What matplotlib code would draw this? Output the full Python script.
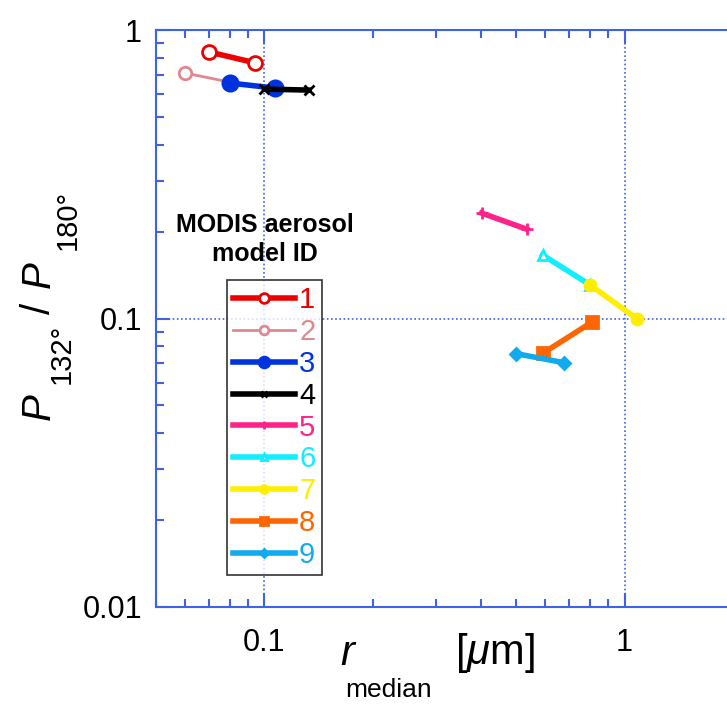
import numpy as np
import matplotlib.pyplot as plt
from matplotlib.ticker import LogLocator, NullFormatter, FixedLocator

plt.rcParams['font.family'] = ['Liberation Sans', 'DejaVu Sans']
plt.rcParams['mathtext.fontset'] = 'custom'
plt.rcParams['mathtext.it'] = 'Liberation Sans:italic'
plt.rcParams['mathtext.rm'] = 'Liberation Sans'

# MODIS aerosol model ID -> (r_median, P132/P180) endpoints
ids = ['1', '2', '3', '4', '5', '6', '7', '8', '9']
r1 = [0.070, 0.094]; p1 = [0.84, 0.77]
r2 = [0.060, 0.080]; p2 = [0.71, 0.66]
r3 = [0.080, 0.107]; p3 = [0.655, 0.629]
r4 = [0.100, 0.133]; p4 = [0.624, 0.619]
r5 = [0.401, 0.535]; p5 = [0.232, 0.204]
r6 = [0.592, 0.800]; p6 = [0.166, 0.131]
r7 = [0.800, 1.080]; p7 = [0.131, 0.100]
r8 = [0.595, 0.810]; p8 = [0.076, 0.097]
r9 = [0.501, 0.678]; p9 = [0.0755, 0.0703]

xs = [r1, r2, r3, r4, r5, r6, r7, r8, r9]
ys = [p1, p2, p3, p4, p5, p6, p7, p8, p9]
colors = ['#ee0000', '#e08890', '#0033dd', '#000000', '#ff2288',
          '#11eeff', '#ffee00', '#ff6600', '#11aaee']
markers = ['o', 'o', 'o', 'x', '+', '^', 'o', 's', 'D']
mfill = ['none', 'none', None, None, None, 'none', None, None, None]
msizes = [10, 9, 11, 7, 9, 7, 8, 9, 6]
lws = [4, 2, 4, 4, 4, 4, 4, 4, 4]

spine_col = '#3f63e8'
W, H = 727, 717

fig = plt.figure(figsize=(W / 100, H / 100), dpi=100)
ax = fig.add_axes([156 / W, (H - 607) / H, (733 - 156) / W, (607 - 30) / H])

handles = []
for i in range(len(ids)):
    kw = dict(color=colors[i], lw=lws[i], marker=markers[i], ms=msizes[i],
              mew=2, label=ids[i])
    if mfill[i] == 'none':
        kw['mfc'] = 'white'
    h, = ax.plot(xs[i], ys[i], **kw)
    handles.append(h)

ax.set_xscale('log')
ax.set_yscale('log')
ax.set_xlim(0.05, 2)
ax.set_ylim(0.01, 1)

for s in ax.spines.values():
    s.set_color(spine_col)
    s.set_linewidth(1.5)

ax.xaxis.set_major_locator(FixedLocator([0.1, 1]))
ax.yaxis.set_major_locator(FixedLocator([0.01, 0.1, 1]))
ax.xaxis.set_minor_locator(LogLocator(base=10, subs=np.arange(2, 10)))
ax.yaxis.set_minor_locator(LogLocator(base=10, subs=np.arange(2, 10)))
ax.xaxis.set_minor_formatter(NullFormatter())
ax.yaxis.set_minor_formatter(NullFormatter())
ax.set_xticklabels(['0.1', '1'])
ax.set_yticklabels(['0.01', '0.1', '1'])
ax.tick_params(which='both', direction='in', top=True, right=False,
               color=spine_col, width=1.5)
ax.tick_params(which='major', length=10, labelsize=22)
ax.tick_params(axis='x', which='major', pad=15)
ax.tick_params(axis='y', which='major', pad=10)
ax.tick_params(which='minor', length=6)

ax.grid(True, which='major', color=spine_col, ls=(0, (1, 1.5)), lw=1.2)


def ftext(x, y, s, **kw):
    return fig.text(x / W, 1 - y / H, s, **kw)


# x label built from pieces (subscript sits low, as in the original)
ftext(340, 665, 'r', fontsize=30, style='italic', ha='left', va='baseline')
ftext(345, 697, 'median', fontsize=19, ha='left', va='baseline')
ftext(455, 664, r'[$\mu$m]', fontsize=30, ha='left', va='baseline')

# y label, rotated, also from pieces
rk = dict(rotation=90, rotation_mode='anchor', ha='left', va='baseline')
ftext(50, 420, 'P', fontsize=29, style='italic', **rk)
ftext(70, 384, '132°', fontsize=21, **rk)
ftext(50, 314, '/', fontsize=29, **rk)
ftext(50, 288, 'P', fontsize=29, style='italic', **rk)
ftext(76, 250, '180°', fontsize=21, **rk)

ax.text(0.1, 0.188, 'MODIS aerosol\nmodel ID', ha='center', va='center',
        fontsize=18, fontweight='bold', linespacing=1.25)

leg = ax.legend(handles=handles, loc='upper left',
                bbox_to_anchor=((227 - 156) / 577, (607 - 280) / 577),
                frameon=True, fancybox=False, edgecolor='black',
                fontsize=21, handlelength=2.1, handletextpad=0.15,
                labelspacing=0.13, borderpad=0.22, borderaxespad=0,
                markerscale=0.7)
leg.get_frame().set_linewidth(1.2)
for t, c in zip(leg.get_texts(), colors):
    t.set_color(c)

fig.savefig('out.png', dpi=100)
